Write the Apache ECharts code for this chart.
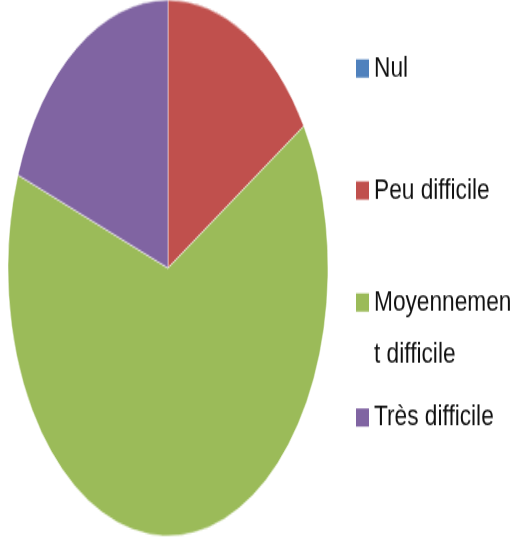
<!DOCTYPE html>
<html>
<head>
<meta charset="utf-8">
<script src="https://cdn.jsdelivr.net/npm/echarts@6/dist/echarts.min.js"></script>
<style>
  html, body { margin: 0; padding: 0; background: #ffffff; }
  #wrap { position: relative; width: 528px; height: 541px; overflow: hidden; background: #fff; }
  #pie { position: absolute; left: 0; top: 100px; width: 336px; height: 336px;
         transform: scaleY(1.675); transform-origin: 50% 50%; }
  #legend { position: absolute; left: 0; top: 0; width: 528px; height: 416px;
            transform: scaleY(1.3); transform-origin: 0 0; }
</style>
</head>
<body>
<div id="wrap">
  <div id="pie"></div>
  <div id="legend"></div>
</div>
<script>
const categories = ['Nul', 'Peu difficile', 'Moyennement difficile', 'Très difficile'];
const values = [0, 5, 20, 6];
const colors = ['#4F81BD', '#C0504D', '#9BBB59', '#8064A2'];

const data = categories.map((c, i) => ({ name: c, value: values[i], itemStyle: { color: colors[i] } }));

const pieChart = echarts.init(document.getElementById('pie'), null, { renderer: 'canvas' });
pieChart.setOption({
  animation: false,
  series: [{
    type: 'pie',
    center: [168, 168],
    radius: [0, 160],
    startAngle: 90,
    clockwise: true,
    label: { show: false },
    labelLine: { show: false },
    itemStyle: { borderColor: 'rgba(255,255,255,0.6)', borderWidth: 0.8 },
    emphasis: { disabled: true },
    data: data
  }]
});

const fontFam = '"Liberation Sans", Arial, sans-serif';
const fontSize = 22.7;
const SY = 1.3;
const iconCentersPx = [68.5, 190.5, 302.5, 417.5];

const legends = categories.map((c, i) => {
  const cy = iconCentersPx[i] / SY;
  const lg = {
    orient: 'vertical',
    left: 356,
    padding: 0,
    itemWidth: 13,
    itemHeight: 14,
    icon: 'rect',
    selectedMode: false,
    data: [c],
    textStyle: { color: '#111111', fontSize: fontSize, fontFamily: fontFam, lineHeight: 24 }
  };
  if (i === 2) {
    lg.formatter = (name) => '{e| }\n{a|' + name.slice(0, 10) + '}\n{a|' + name.slice(10) + '}';
    lg.textStyle.rich = {
      e: { lineHeight: 40, fontSize: fontSize, fontFamily: fontFam },
      a: { lineHeight: 40, fontSize: fontSize, fontFamily: fontFam, color: '#111111' }
    };
    lg.top = cy - 60;
  } else {
    lg.top = cy - 12;
  }
  return lg;
});

const legendChart = echarts.init(document.getElementById('legend'), null, { renderer: 'canvas' });
legendChart.setOption({
  animation: false,
  legend: legends,
  series: [{
    type: 'pie',
    center: [-100, -100],
    radius: [0, 0],
    label: { show: false },
    labelLine: { show: false },
    silent: true,
    data: data
  }]
});
</script>
</body>
</html>
